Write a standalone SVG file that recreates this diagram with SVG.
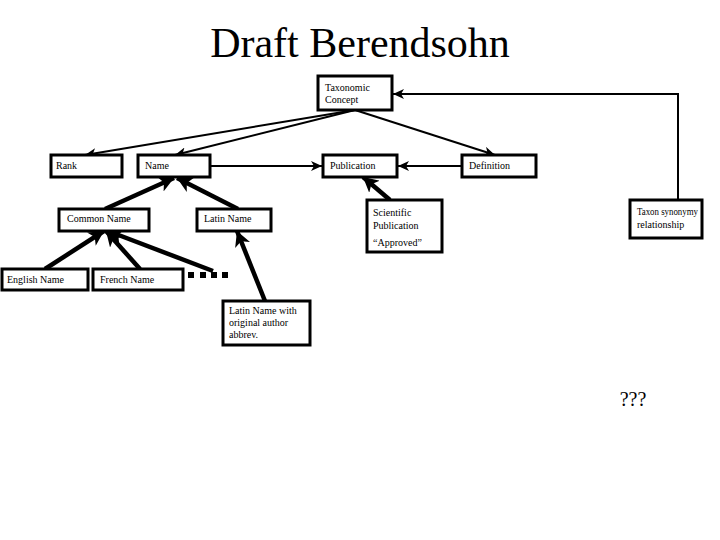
<svg xmlns="http://www.w3.org/2000/svg" width="720" height="540" viewBox="0 0 720 540">
<style>
.box{fill:#fff;stroke:#000;stroke-width:3}
.t{font-family:"Liberation Serif","Times New Roman",serif;font-size:10px;fill:#000}
.thin{fill:none;stroke:#000;stroke-width:2}
.thick{fill:none;stroke:#000;stroke-width:4.5}
</style>
<defs>
<marker id="a" markerUnits="userSpaceOnUse" markerWidth="12" markerHeight="10" refX="11" refY="5" orient="auto"><path d="M0,0 L11,5 L0,10 L3,5 Z" fill="#000"/></marker>
<marker id="b" markerUnits="userSpaceOnUse" markerWidth="16" markerHeight="16" refX="15" refY="8" orient="auto"><path d="M0,0 L15,8 L0,16 L4,8 Z" fill="#000"/></marker>
</defs>
<rect width="720" height="540" fill="#fff"/>
<text x="360" y="57" text-anchor="middle" style="font-family:'Liberation Serif','Times New Roman',serif;font-size:42px">Draft Berendsohn</text>
<g id="connectors">
<line class="thin" x1="355" y1="110" x2="85" y2="155" marker-end="url(#a)"/>
<line class="thin" x1="355" y1="110" x2="175" y2="155" marker-end="url(#a)"/>
<line class="thin" x1="355" y1="110" x2="495" y2="155" marker-end="url(#a)"/>
<line class="thin" x1="210" y1="166" x2="322" y2="166" marker-end="url(#a)"/>
<line class="thin" x1="462" y1="166" x2="398" y2="166" marker-end="url(#a)"/>
<polyline class="thin" points="678,200 678,94 393,94" marker-end="url(#a)"/>
<line class="thick" x1="390" y1="200" x2="363" y2="177" marker-end="url(#b)"/>
<line class="thick" x1="105" y1="209" x2="174" y2="178" marker-end="url(#b)"/>
<line class="thick" x1="238" y1="209" x2="177" y2="178" marker-end="url(#b)"/>
<line class="thick" x1="45" y1="269" x2="104" y2="231" marker-end="url(#b)"/>
<line class="thick" x1="140" y1="269" x2="106" y2="231" marker-end="url(#b)"/>
<line class="thick" x1="213" y1="271" x2="108" y2="231" marker-end="url(#b)"/>
<line class="thick" x1="265" y1="301" x2="237" y2="231" marker-end="url(#b)"/>
</g>
<g id="taxonomic-concept"><rect class="box" x="318" y="76" width="74" height="34"/><text class="t" x="325" y="91">Taxonomic</text><text class="t" x="325" y="103">Concept</text></g>
<g id="rank"><rect class="box" x="51" y="155" width="71" height="22"/><text class="t" x="56" y="169">Rank</text></g>
<g id="name"><rect class="box" x="138" y="155" width="72" height="22"/><text class="t" x="145" y="169">Name</text></g>
<g id="publication"><rect class="box" x="323" y="155" width="74" height="22"/><text class="t" x="330" y="169">Publication</text></g>
<g id="definition"><rect class="box" x="462" y="155" width="74" height="22"/><text class="t" x="469" y="169">Definition</text></g>
<g id="common-name"><rect class="box" x="59" y="209" width="90" height="22"/><text class="t" x="67" y="222">Common Name</text></g>
<g id="latin-name"><rect class="box" x="197" y="209" width="74" height="22"/><text class="t" x="204" y="222">Latin Name</text></g>
<g id="scientific-publication"><rect class="box" x="367" y="200" width="75" height="52"/><text class="t" x="373" y="216">Scientific</text><text class="t" x="373" y="229">Publication</text><text class="t" x="373" y="246">“Approved”</text></g>
<g id="taxon-synonymy"><rect class="box" x="630" y="200" width="72" height="38"/><text class="t" x="637" y="215" textLength="61" lengthAdjust="spacingAndGlyphs">Taxon synonymy</text><text class="t" x="637" y="228">relationship</text></g>
<g id="english-name"><rect class="box" x="2" y="269" width="86" height="21"/><text class="t" x="7" y="283">English Name</text></g>
<g id="french-name"><rect class="box" x="93" y="269" width="90" height="21"/><text class="t" x="100" y="283">French Name</text></g>
<g id="more-dots" fill="#000"><rect x="188" y="272" width="6" height="6"/><rect x="200" y="272" width="6" height="6"/><rect x="211" y="272" width="6" height="6"/><rect x="222" y="272" width="6" height="6"/></g>
<g id="latin-author"><rect class="box" x="223" y="301" width="87" height="44"/><text class="t" x="229" y="314">Latin Name with</text><text class="t" x="229" y="326">original author</text><text class="t" x="229" y="338">abbrev.</text></g>
<text x="633" y="406" text-anchor="middle" style="font-family:'Liberation Serif','Times New Roman',serif;font-size:20px">???</text>
</svg>
